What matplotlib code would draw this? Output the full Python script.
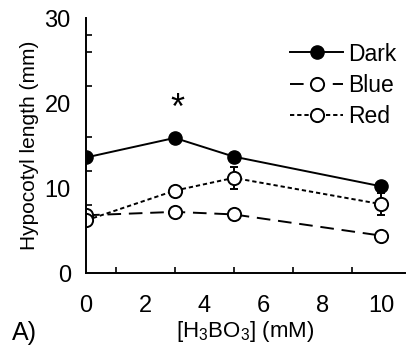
import matplotlib
matplotlib.use("Agg")
from matplotlib import pyplot as plt
from matplotlib.lines import Line2D

plt.rcParams['font.family'] = ['Liberation Sans', 'DejaVu Sans']
plt.rcParams['mathtext.default'] = 'regular'

conc = [0, 3, 5, 10]
dark = [13.6, 15.9, 13.7, 10.2]
dark_err = [0.3, 0.3, 0.3, 0.4]
blue = [6.8, 7.2, 6.9, 4.4]
blue_err = [0.4, 0.3, 0.3, 0.3]
red = [6.2, 9.7, 11.2, 8.1]
red_err = [0.6, 0.4, 1.3, 1.3]

xtick_labels = [0, 2, 4, 6, 8, 10]
xminor = [1, 3, 5, 7, 8, 9]
ytick_labels = [0, 10, 20, 30]
yminor = [8, 12, 14, 16, 20, 22, 26, 28]

fig = plt.figure(figsize=(4.10, 3.47), dpi=100)
ax = fig.add_axes([0.21, 0.213, 0.778, 0.735])

ls_blue = (0, (7, 4))
ls_red = (0, (2.2, 1.5))
ax.errorbar(conc, dark, yerr=dark_err, color='black', linestyle='-', lw=1.4,
            marker='o', ms=9.5, mfc='black', mec='black', capsize=3)
ax.errorbar(conc, blue, yerr=blue_err, color='black', linestyle=ls_blue, lw=1.4,
            marker='o', ms=9.5, mfc='white', mec='black', mew=1.4, capsize=3)
ax.errorbar(conc, red, yerr=red_err, color='black', linestyle=ls_red, lw=1.4,
            marker='o', ms=9.5, mfc='white', mec='black', mew=1.4, capsize=3)

ax.text(3.1, 19.2, '*', fontsize=26, ha='center', va='center')

ax.set_xlim(0, 10.8)
ax.set_ylim(0, 30)
ax.set_xticks(xtick_labels)
ax.set_yticks(ytick_labels)
ax.set_xticks(xminor, minor=True)
ax.set_yticks(yminor, minor=True)
ax.tick_params(axis='both', which='major', length=0, labelsize=17)
ax.tick_params(axis='x', which='major', pad=16)
ax.tick_params(axis='y', which='major', pad=11)
ax.tick_params(axis='both', which='minor', direction='in', length=4, width=1.2)

for s in ['top', 'right']:
    ax.spines[s].set_visible(False)
for s in ['left', 'bottom']:
    ax.spines[s].set_linewidth(1.4)

ax.set_ylabel('Hypocotyl length (mm)', fontsize=15, labelpad=4)
ax.set_xlabel('[H$_3$BO$_3$] (mM)', fontsize=16, labelpad=1)
fig.text(0.03, 0.02, 'A)', fontsize=18)

handles = [
    Line2D([], [], color='black', ls='-', lw=1.4, marker='o', ms=9.5, mfc='black'),
    Line2D([], [], color='black', ls=ls_blue, lw=1.4, marker='o', ms=9.5, mfc='white', mew=1.4),
    Line2D([], [], color='black', ls=ls_red, lw=1.4, marker='o', ms=9.5, mfc='white', mew=1.4),
]
ax.legend(handles, ['Dark', 'Blue', 'Red'], loc='upper right', frameon=False, fontsize=16.5,
          handlelength=2.3, handletextpad=0.2, labelspacing=0.35, borderaxespad=0.0,
          bbox_to_anchor=(1.0, 0.94))

fig.savefig('out.png', dpi=100)
